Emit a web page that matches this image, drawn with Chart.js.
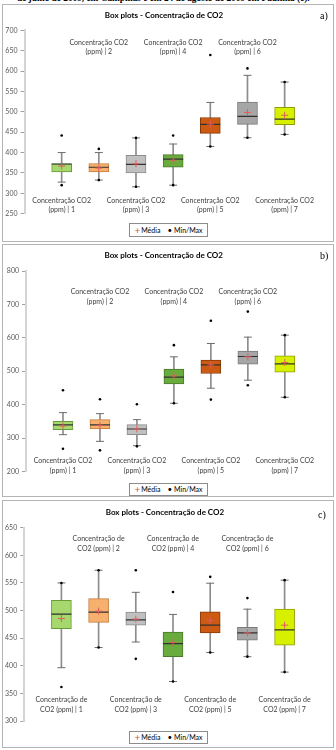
<!DOCTYPE html>
<html><head><meta charset="utf-8">
<script src="https://cdn.jsdelivr.net/npm/chart.js@4"></script>
<style>
html,body{margin:0;padding:0;background:#fff;width:336px;height:750px;overflow:hidden;position:relative;font-family:Lato,sans-serif}
.panel{position:absolute;border:1px solid #b4b4b4;background:#fff}
.panel canvas{position:absolute;left:0;top:0}
.tag{position:absolute;font-family:"Liberation Serif",serif;font-size:10px;line-height:10px;color:#000}
.leg{position:absolute;border:1px solid #8c8c8c;box-sizing:border-box;display:flex;align-items:center;justify-content:center;font-size:7px;color:#000;white-space:nowrap;background:#fff}
.leg .p{color:#e05050;font-size:10px;margin-right:1px;line-height:10px}
.leg .d{font-size:8px;margin:0 2px 0 7px;line-height:10px}
.top{position:absolute;left:17px;top:-7.5px;font-family:"Liberation Serif",serif;font-weight:bold;font-size:9.3px;line-height:10px;white-space:nowrap}
</style></head>
<body>
<div class="top">de julho de 2009, em Campinas e em 24 de agosto de 2009 em Paulínia (c).</div>

<div class="panel" style="left:2px;top:4px;width:330px;height:236px">
  <canvas id="ca" width="330" height="236"></canvas>
  <div class="tag" style="left:317px;top:6px">a)</div>
  <div class="leg" style="left:126px;top:217.5px;width:79px;height:14.5px"><span class="p">+</span>Média<span class="d">•</span>Min/Max</div>
</div>
<div class="panel" style="left:2px;top:244px;width:330px;height:251px">
  <canvas id="cb" width="330" height="251"></canvas>
  <div class="tag" style="left:317px;top:6px">b)</div>
  <div class="leg" style="left:126px;top:237.5px;width:79px;height:13px"><span class="p">+</span>Média<span class="d">•</span>Min/Max</div>
</div>
<div class="panel" style="left:2px;top:500px;width:330px;height:246px">
  <canvas id="cc" width="330" height="246"></canvas>
  <div class="tag" style="left:315px;top:9px">c)</div>
  <div class="leg" style="left:126px;top:229.5px;width:79px;height:13px"><span class="p">+</span>Média<span class="d">•</span>Min/Max</div>
</div>

<script>
// ---------- Chart a ----------
const catsA = [['Concentração CO2','(ppm) | 1'],['Concentração CO2','(ppm) | 2'],['Concentração CO2','(ppm) | 3'],['Concentração CO2','(ppm) | 4'],['Concentração CO2','(ppm) | 5'],['Concentração CO2','(ppm) | 6'],['Concentração CO2','(ppm) | 7']];
const minA   = [320, 332.5, 316, 320, 415, 436.5, 444.5];
const wLowA  = [327.5, 332.5, 316, 320, 415, 436.5, 444.5];
const q1A    = [352.5, 352.5, 350, 364, 447, 469, 468.5];
const medA   = [372, 364, 371, 384, 469, 489, 482];
const meanA  = [367, 362, 372.5, 381, 470, 498.5, 491.5];
const q3A    = [372.5, 373, 393, 395, 486, 524, 511];
const wHighA = [400, 400, 436, 421, 523, 589.5, 573];
const maxA   = [442, 409, 436, 442, 639.5, 606.5, 573];
const ticksA = {min:250, max:700, step:50};

// ---------- Chart b ----------
const catsB = catsA;
const minB   = [268, 263, 275, 404, 415, 458, 422];
const wLowB  = [310, 290, 277, 404, 449, 473, 422];
const q1B    = [325, 327, 310, 462, 493, 521, 497];
const medB   = [339, 339, 327, 482, 519, 544, 522];
const meanB  = [336, 338, 327, 486, 519, 543, 526];
const q3B    = [350, 355, 340, 506, 533, 560, 546];
const wHighB = [376, 373, 355, 543, 583, 602, 608];
const maxB   = [443, 416, 401, 578, 651, 678.5, 608];
const ticksB = {min:200, max:800, step:100};

// ---------- Chart c ----------
const catsC = [['Concentração de','CO2 (ppm) | 1'],['Concentração de','CO2 (ppm) | 2'],['Concentração de','CO2 (ppm) | 3'],['Concentração de','CO2 (ppm) | 4'],['Concentração de','CO2 (ppm) | 5'],['Concentração de','CO2 (ppm) | 6'],['Concentração de','CO2 (ppm) | 7']];
const minC   = [361.5, 433, 412.5, 371.5, 424, 416.5, 388.5];
const wLowC  = [396.5, 433, 443, 371.5, 424, 416.5, 388.5];
const q1C    = [467, 478.5, 473.5, 416.5, 459.5, 446.5, 437.5];
const medC   = [493.5, 497, 483, 440, 473.5, 459.5, 465];
const meanC  = [485.5, 499, 484.5, 442, 482, 459.5, 473.5];
const q3C    = [518.5, 521.5, 497, 461, 497.5, 469.5, 502.5];
const wHighC = [550, 573, 533, 493, 549.5, 502.5, 555];
const maxC   = [550, 573, 573, 533.5, 561, 522.5, 555];
const ticksC = {min:300, max:650, step:50};

// ---------- styles ----------
const boxFill   = ['#a6d86e','#f7b06e','#c0c0c0','#6aab3e','#cc5a12','#a6a6a6','#d6f000'];
const boxBorder = ['#6a9a3a','#c47c3c','#8c8c8c','#4a7a2a','#8a3a08','#7a7a7a','#8fa000'];
const FONT = 'Lato';

const catLabels = {
  id:'catLabels',
  afterDraw(chart, args, o){
    const {ctx, chartArea, scales:{x}} = chart;
    ctx.save();
    ctx.font = '7px ' + FONT; ctx.fillStyle = '#404040';
    ctx.textAlign = 'center'; ctx.textBaseline = 'middle';
    o.cats.forEach((lines, i) => {
      const px = x.getPixelForValue(i + 1);
      const y0 = (i % 2 === 0) ? chartArea.bottom + o.bottomOff : chartArea.top + o.topOff;
      lines.forEach((t, j) => ctx.fillText(t, px, y0 + j * o.gap));
    });
    ctx.restore();
  }
};

function pad(arr){ return [null, ...arr, null]; }

function makeChart(id, d, L){
  const labels = ['', ...d.cats.map(c => c.join(' ')), ''];
  const pt = (data, style, r, color, bw, order, fill) => ({
    type:'line', data: pad(data), showLine:false, pointStyle:style, pointRadius:r,
    pointBorderColor:color, pointBackgroundColor: fill || color, pointBorderWidth:bw, order
  });
  new Chart(document.getElementById(id), {
    type:'bar',
    data:{
      labels,
      datasets:[
        {data: pad(d.wLow.map((v,i)=>[v, d.wHigh[i]])), backgroundColor:'#8c8c8c', barThickness:1, grouped:false, order:6},
        {data: pad(d.q1.map((v,i)=>[v, d.q3[i]])), backgroundColor: pad(boxFill), borderColor: pad(boxBorder), borderWidth:1, borderSkipped:false, barThickness:20, grouped:false, order:5},
        pt(d.wLow, 'line', 4, '#6e6e6e', 1, 4),
        pt(d.wHigh, 'line', 4, '#6e6e6e', 1, 4),
        pt(d.med, 'line', 10, '#303030', 1.2, 3),
        pt(d.mean, 'cross', 3.5, '#e25c5c', 1, 2),
        pt(d.min, 'circle', 1.3, '#000', 0, 1),
        pt(d.max, 'circle', 1.3, '#000', 0, 1)
      ]
    },
    options:{
      responsive:false, animation:false, devicePixelRatio:1, events:[],
      layout:{padding:{left:0, top:0, right:L.right, bottom:L.bottom}},
      plugins:{
        legend:{display:false}, tooltip:{enabled:false},
        title:{display:true, text:'Box plots - Concentração de CO2', color:'#000',
               font:{family:FONT, size:8, weight:'bold', lineHeight:1.2},
               padding:{top:L.tTop, bottom:L.tBot}},
        catLabels:{cats:d.cats, bottomOff:L.bOff, topOff:L.tOff, gap:L.gap}
      },
      scales:{
        x:{type:'category', offset:false, display:false},
        y:{min:d.ticks.min, max:d.ticks.max,
           afterFit(s){ s.width = L.left; },
           ticks:{stepSize:d.ticks.step, color:'#595959', font:{family:FONT, size:7}, padding:3},
           grid:{display:true, drawOnChartArea:false, drawTicks:true, tickLength:4, color:'#a0a0a0'},
           border:{display:true, color:'#d4d4d4', width:2}}
      }
    },
    plugins:[catLabels]
  });
}

makeChart('ca', {cats:catsA, min:minA, wLow:wLowA, q1:q1A, med:medA, mean:meanA, q3:q3A, wHigh:wHighA, max:maxA, ticks:ticksA},
  {left:21.5, right:8, bottom:27.3, tTop:6, tBot:9.7, bOff:-13, tOff:12, gap:9.4});
makeChart('cb', {cats:catsB, min:minB, wLow:wLowB, q1:q1B, med:medB, mean:meanB, q3:q3B, wHigh:wHighB, max:maxB, ticks:ticksB},
  {left:23, right:8.6, bottom:24.6, tTop:6, tBot:10.4, bOff:-10.7, tOff:21, gap:9.7});
makeChart('cc', {cats:catsC, min:minC, wLow:wLowC, q1:q1C, med:medC, mean:meanC, q3:q3C, wHigh:wHighC, max:maxC, ticks:ticksC},
  {left:21.2, right:6.2, bottom:26, tTop:6.5, tBot:10.6, bOff:-21, tOff:11.3, gap:9.7});
</script>
</body></html>
